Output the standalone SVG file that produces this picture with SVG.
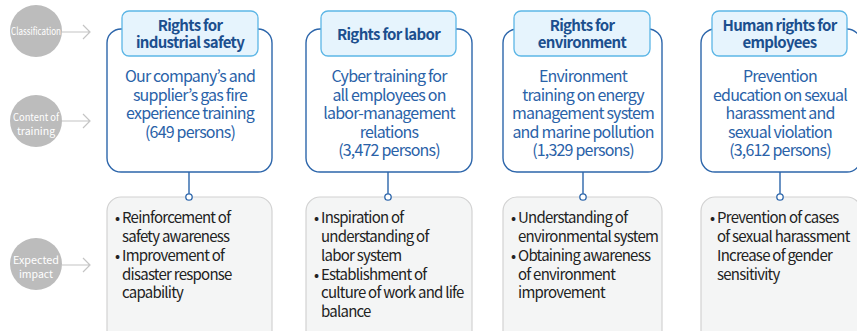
<svg xmlns="http://www.w3.org/2000/svg" width="857" height="331" viewBox="0 0 857 331">
<style>
text{font-family:"Noto Sans CJK KR","Noto Sans",sans-serif}
.lc{fill:#bcbcbc}
.lt{fill:#fff;font-size:10.5px;text-anchor:middle}
.ar{fill:none;stroke:#c4c4c4;stroke-width:1.2}
.ob{fill:#fff;stroke:#2d66ab;stroke-width:1.4}
.tb{fill:#e6f4fd;stroke:#5cb6e6;stroke-width:1.3}
.tt{fill:#1c4f8e;font-size:15px;font-weight:bold;text-anchor:middle;letter-spacing:-0.7px}
.ct{fill:#2a62a8;font-size:16px;text-anchor:middle;letter-spacing:-0.8px}
.bb{fill:#f4f5f5;stroke:#d2d2d2;stroke-width:1.2}
.bt{fill:#222;font-size:15px;letter-spacing:-0.75px}
.cn{stroke:#2d66ab;stroke-width:1.4;fill:none}
.dot{fill:#fff;stroke:#2d66ab;stroke-width:1.3}
</style>
<g id="labels">
<g id="lab-classification">
<circle class="lc" cx="36" cy="31" r="26"/>
<text class="lt" x="36" y="35" textLength="50" lengthAdjust="spacingAndGlyphs">Classification</text>
<path class="ar" d="M62 32H89M83 25L90 32L83 39"/>
</g>
<g id="lab-content">
<circle class="lc" cx="36" cy="121" r="26"/>
<text class="lt" x="36" y="121" textLength="46" lengthAdjust="spacingAndGlyphs">Content of</text>
<text class="lt" x="36" y="135">training</text>
<path class="ar" d="M62 121H89M83 114L90 121L83 128"/>
</g>
<g id="lab-impact">
<circle class="lc" cx="36" cy="264" r="26"/>
<text class="lt" x="36" y="264" textLength="46" lengthAdjust="spacingAndGlyphs">Expected</text>
<text class="lt" x="36" y="278">impact</text>
<path class="ar" d="M62 265H89M83 258L90 265L83 272"/>
</g>
</g>
<g id="connectors">
<path class="cn" d="M189 172V194M388 172V194M583 172V194M780 172V194"/>
</g>
<g id="col1">
<rect class="ob" x="107" y="29" width="165" height="143" rx="14"/>
<rect class="tb" x="122" y="11" width="136" height="45" rx="7"/>
<text class="tt" x="190" y="31">Rights for</text>
<text class="tt" x="190" y="48">industrial safety</text>
<text class="ct" x="190" y="82">Our company’s and</text>
<text class="ct" x="190" y="100.5">supplier’s gas fire</text>
<text class="ct" x="190" y="119">experience training</text>
<text class="ct" x="190" y="137.5">(649 persons)</text>
<rect class="bb" x="107" y="197" width="165" height="150" rx="14"/>
<circle class="dot" cx="189" cy="197" r="3.2"/>
<text class="bt" x="115" y="223">•<tspan x="122">Reinforcement of</tspan></text>
<text class="bt" x="122" y="242">safety awareness</text>
<text class="bt" x="115" y="261">•<tspan x="122">Improvement of</tspan></text>
<text class="bt" x="122" y="280">disaster response</text>
<text class="bt" x="122" y="298">capability</text>
</g>
<g id="col2">
<rect class="ob" x="306" y="29" width="166" height="143" rx="14"/>
<rect class="tb" x="321" y="11" width="135" height="45" rx="7"/>
<text class="tt" x="388.5" y="39.5">Rights for labor</text>
<text class="ct" x="389" y="82">Cyber training for</text>
<text class="ct" x="389" y="100.5">all employees on</text>
<text class="ct" x="389" y="119">labor-management</text>
<text class="ct" x="389" y="137.5">relations</text>
<text class="ct" x="389" y="156">(3,472 persons)</text>
<rect class="bb" x="306" y="197" width="166" height="150" rx="14"/>
<circle class="dot" cx="388" cy="197" r="3.2"/>
<text class="bt" x="314" y="223">•<tspan x="321">Inspiration of</tspan></text>
<text class="bt" x="321" y="242">understanding of</text>
<text class="bt" x="321" y="261">labor system</text>
<text class="bt" x="314" y="280">•<tspan x="321">Establishment of</tspan></text>
<text class="bt" x="321" y="298">culture of work and life</text>
<text class="bt" x="321" y="317">balance</text>
</g>
<g id="col3">
<rect class="ob" x="503" y="29" width="159" height="143" rx="14"/>
<rect class="tb" x="514" y="11" width="136" height="45" rx="7"/>
<text class="tt" x="582" y="31">Rights for</text>
<text class="tt" x="582" y="48">environment</text>
<text class="ct" x="583" y="82">Environment</text>
<text class="ct" x="583" y="100.5">training on energy</text>
<text class="ct" x="583" y="119">management system</text>
<text class="ct" x="583" y="137.5">and marine pollution</text>
<text class="ct" x="583" y="156">(1,329 persons)</text>
<rect class="bb" x="503" y="197" width="159" height="150" rx="14"/>
<circle class="dot" cx="583" cy="197" r="3.2"/>
<text class="bt" x="511" y="223">•<tspan x="518">Understanding of</tspan></text>
<text class="bt" x="518" y="242">environmental system</text>
<text class="bt" x="511" y="261">•<tspan x="518">Obtaining awareness</tspan></text>
<text class="bt" x="518" y="280">of environment</text>
<text class="bt" x="518" y="298">improvement</text>
</g>
<g id="col4">
<rect class="ob" x="701" y="29" width="160" height="143" rx="14"/>
<rect class="tb" x="712" y="11" width="135" height="45" rx="7"/>
<text class="tt" x="779.5" y="31">Human rights for</text>
<text class="tt" x="779.5" y="48">employees</text>
<text class="ct" x="780" y="82">Prevention</text>
<text class="ct" x="780" y="100.5">education on sexual</text>
<text class="ct" x="780" y="119">harassment and</text>
<text class="ct" x="780" y="137.5">sexual violation</text>
<text class="ct" x="780" y="156">(3,612 persons)</text>
<rect class="bb" x="701" y="197" width="160" height="150" rx="14"/>
<circle class="dot" cx="780" cy="197" r="3.2"/>
<text class="bt" x="710" y="223">•<tspan x="717">Prevention of cases</tspan></text>
<text class="bt" x="717" y="242">of sexual harassment</text>
<text class="bt" x="717" y="261">Increase of gender</text>
<text class="bt" x="717" y="280">sensitivity</text>
</g>
</svg>
